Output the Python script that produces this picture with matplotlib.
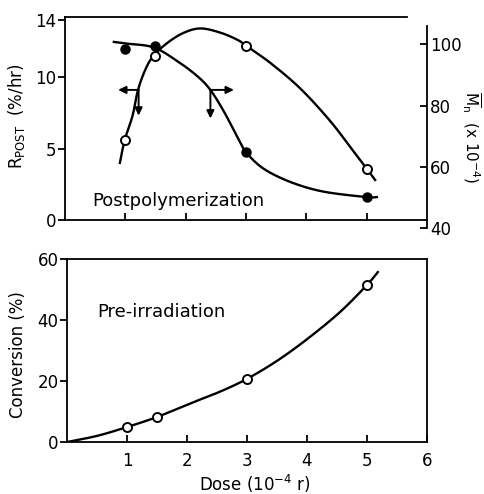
import numpy as np
import matplotlib
matplotlib.use("Agg")
import matplotlib.pyplot as plt

plt.rcParams['font.family'] = ['DejaVu Sans']

# ---- data ----
dose = [1.0, 1.5, 3.0, 5.0]
r_post = [5.6, 11.5, 12.2, 3.6]          # open circles, left axis (%/hr)
mn = [98.6, 99.4, 64.8, 50.1]            # filled circles, right axis (x10^-4)
conversion = [4.9, 8.2, 20.7, 51.5]      # pre-irradiation conversion (%)

# hand-drawn smooth curves
rpost_curve_x = [0.91, 0.99, 1.12, 1.21, 1.34, 1.47, 1.70, 1.97, 2.25, 2.58, 2.86, 3.0,
                 3.4, 3.9, 4.4, 4.8, 5.0, 5.14]
rpost_curve_y = [4.0, 5.6, 7.3, 9.1, 10.6, 11.5, 12.4, 13.1, 13.4, 13.1, 12.6, 12.2,
                 11.0, 9.2, 6.9, 4.7, 3.6, 2.8]
mn_curve_x = [0.81, 1.0, 1.47, 1.87, 2.2, 2.41, 2.63, 2.85, 3.0, 3.29, 3.74, 4.28, 5.0, 5.17]
mn_curve_y = [100.8, 100.3, 99.0, 94.4, 89.5, 85.1, 78.2, 70.0, 64.8, 59.4, 55.0, 51.9, 50.1, 50.1]
conv_curve_x = [0.0, 0.5, 1.0, 1.5, 2.1, 2.55, 3.0, 3.5, 4.0, 4.55, 5.0, 5.18]
conv_curve_y = [0.0, 2.0, 4.9, 8.2, 13.0, 16.5, 20.7, 26.6, 33.7, 42.6, 51.5, 55.7]

top_yticks = [0, 5, 10, 14]
right_yticks = [40, 60, 80, 100]
bottom_yticks = [0, 20, 40, 60]
xticks = [1, 2, 3, 4, 5, 6]


def smooth(xs, ys, n=20):
    p = np.column_stack([xs, ys]).astype(float)
    p = np.vstack([2 * p[0] - p[1], p, 2 * p[-1] - p[-2]])
    out = []
    t = np.linspace(0, 1, n, endpoint=False)[:, None]
    for i in range(1, len(p) - 2):
        p0, p1, p2, p3 = p[i - 1], p[i], p[i + 1], p[i + 2]
        seg = 0.5 * ((2 * p1) + (-p0 + p2) * t + (2 * p0 - 5 * p1 + 4 * p2 - p3) * t ** 2
                     + (-p0 + 3 * p1 - 3 * p2 + p3) * t ** 3)
        out.append(seg)
    out.append(p[-2][None, :])
    out = np.vstack(out)
    return out[:, 0], out[:, 1]


LW = 1.7
FS = 12
fig = plt.figure(figsize=(4.85, 4.94), dpi=100)

# ---------------- top panel ----------------
ax = fig.add_axes([65 / 485, 1 - 220 / 494, 362 / 485, 203 / 494])
ax.set_xlim(0, 6)
ax.set_ylim(0, 14.2)
ax.spines['right'].set_visible(False)
ax.spines['top'].set_bounds(0, 5.67)
for s in ['left', 'bottom', 'top']:
    ax.spines[s].set_linewidth(1.3)
ax.set_xticks(xticks[:-1])
ax.set_xticklabels([])
ax.tick_params(axis='x', direction='in', length=5, width=1.3)
ax.set_yticks(top_yticks)
ax.tick_params(axis='y', direction='out', length=5, width=1.3, pad=1, labelsize=FS)

cx, cy = smooth(rpost_curve_x, rpost_curve_y)
ax.plot(cx, cy, color='black', lw=LW, zorder=2)
ax.plot(dose, r_post, 'o', mfc='white', mec='black', mew=1.4, ms=6.5, zorder=3)

ax.text(0.45, 1.3, 'Postpolymerization', fontsize=13, va='center', ha='left')

# corner arrows
arrow_kw = dict(arrowstyle='-|>,head_length=0.45,head_width=0.22', color='black', lw=1.4,
                shrinkA=0, shrinkB=0)
ax.annotate('', xy=(0.88, 9.1), xytext=(1.22, 9.1), arrowprops=arrow_kw)
ax.annotate('', xy=(1.22, 7.3), xytext=(1.22, 9.1), arrowprops=arrow_kw)
ax.annotate('', xy=(2.8, 9.1), xytext=(2.41, 9.1), arrowprops=arrow_kw)
ax.annotate('', xy=(2.41, 7.1), xytext=(2.41, 9.1), arrowprops=arrow_kw)

# right axis (separate, slightly offset as in the original)
axr = fig.add_axes([65 / 485, 1 - 228 / 494, 362 / 485, 202 / 494])
axr.patch.set_visible(False)
for s in ['left', 'bottom', 'top']:
    axr.spines[s].set_visible(False)
axr.spines['right'].set_linewidth(1.3)
axr.set_xlim(0, 6)
axr.set_ylim(40, 106)
axr.set_xticks([])
axr.yaxis.tick_right()
axr.set_yticks(right_yticks)
axr.tick_params(axis='y', direction='in', length=5, width=1.3, pad=2, labelsize=FS)

mx, my = smooth(mn_curve_x, mn_curve_y)
axr.plot(mx, my, color='black', lw=LW, zorder=2)
axr.plot(dose, mn, 'o', color='black', ms=6.5, zorder=3)

fig.text(17 / 485, 1 - 116 / 494, r'R$_{\mathrm{POST}}$  (%/hr)', rotation=90,
         ha='center', va='center', fontsize=FS)
fig.text(471 / 485, 1 - 137 / 494, r'$\overline{\mathrm{M}}_{\mathrm{n}}$  (x 10$^{-4}$)',
         rotation=-90, ha='center', va='center', fontsize=FS - 1)

# ---------------- bottom panel ----------------
ax2 = fig.add_axes([67 / 485, 1 - 442 / 494, 360 / 485, 183 / 494])
ax2.set_xlim(0, 6)
ax2.set_ylim(0, 60)
for s in ax2.spines.values():
    s.set_linewidth(1.3)
ax2.set_xticks(xticks)
ax2.tick_params(axis='x', direction='in', length=5, width=1.3, pad=7, labelsize=FS)
ax2.set_yticks(bottom_yticks)
ax2.tick_params(axis='y', direction='out', length=5, width=1.3, pad=1, labelsize=FS)

bx, by = smooth(conv_curve_x, conv_curve_y)
ax2.plot(bx, by, color='black', lw=LW, zorder=2)
ax2.plot(dose, conversion, 'o', mfc='white', mec='black', mew=1.4, ms=6.5, zorder=3)

ax2.text(0.5, 42.6, 'Pre-irradiation', fontsize=13, va='center', ha='left')

fig.text(18 / 485, 1 - 355 / 494, 'Conversion (%)', rotation=90,
         ha='center', va='center', fontsize=FS)
fig.text(255 / 485, 1 - 484 / 494, r'Dose (10$^{-4}$ r)', ha='center', va='center', fontsize=FS)

fig.savefig('out.png', dpi=100)
